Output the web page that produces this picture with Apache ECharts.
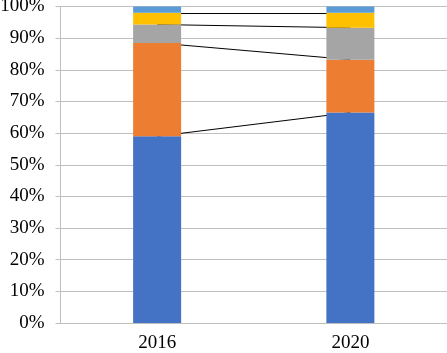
<!DOCTYPE html>
<html>
<head>
<meta charset="utf-8">
<script src="https://cdn.jsdelivr.net/npm/echarts@6/dist/echarts.min.js"></script>
<style>
  html, body { margin: 0; padding: 0; background: #fff; }
  #chart { width: 447px; height: 353px; }
</style>
</head>
<body>
<div id="chart"></div>
<script>
// categories and stacked shares (%)
const years = ['2016', '2020']
const seriesNames = ['A', 'B', 'C', 'D', 'E']
const blueVals = [59.0, 66.5]
const orangeVals = [29.5, 16.7]
const grayVals = [5.8, 10.1]
const yellowVals = [3.7, 4.7]
const lightBlueVals = [2.0, 2.0]
const colors = ['#4472C4', '#ED7D31', '#A5A5A5', '#FFC000', '#5B9BD5']

const allVals = [blueVals, orangeVals, grayVals, yellowVals, lightBlueVals]
const serif = "'Liberation Serif', 'Times New Roman', Times, serif"

// series lines between stacked tops (except the last one at 100%)
const seriesLines = []
const cum = [0, 0]
for (let i = 0; i < allVals.length - 1; i++) {
  cum[0] += allVals[i][0]
  cum[1] += allVals[i][1]
  seriesLines.push([
    { coord: [years[0], cum[0]] },
    { coord: [years[1], cum[1]] }
  ])
}

const chart = echarts.init(document.getElementById('chart'))

const barSeries = allVals.map((vals, i) => ({
  name: seriesNames[i],
  type: 'bar',
  stack: 'total',
  barWidth: 48,
  z: 3,
  itemStyle: { color: colors[i] },
  data: vals
}))

const option = {
  animation: false,
  textStyle: { fontFamily: serif },
  grid: { left: 60.5, right: 0, top: 6.5, bottom: 30, containLabel: false, outerBoundsMode: 'none' },
  xAxis: {
    type: 'category',
    data: years,
    axisLine: { lineStyle: { color: '#bfbfbf', width: 1 } },
    axisTick: { show: false },
    axisLabel: { color: '#000', fontSize: 19, fontFamily: serif, margin: 11 }
  },
  yAxis: {
    type: 'value',
    min: 0,
    max: 100,
    interval: 10,
    axisLine: { show: true, lineStyle: { color: '#bfbfbf', width: 1 } },
    axisTick: { show: true, length: 5, lineStyle: { color: '#bfbfbf' } },
    splitLine: { lineStyle: { color: '#bfbfbf', width: 1 } },
    axisLabel: {
      color: '#000',
      fontSize: 19,
      fontFamily: serif,
      margin: 16,
      formatter: v => v + '%'
    }
  },
  series: barSeries.concat([{
    type: 'line',
    z: 1,
    data: [],
    silent: true,
    markLine: {
      z: 1,
      silent: true,
      symbol: 'none',
      label: { show: false },
      lineStyle: { color: '#000', width: 1, type: 'solid' },
      emphasis: { disabled: true },
      data: seriesLines
    }
  }])
}

chart.setOption(option)
</script>
</body>
</html>
